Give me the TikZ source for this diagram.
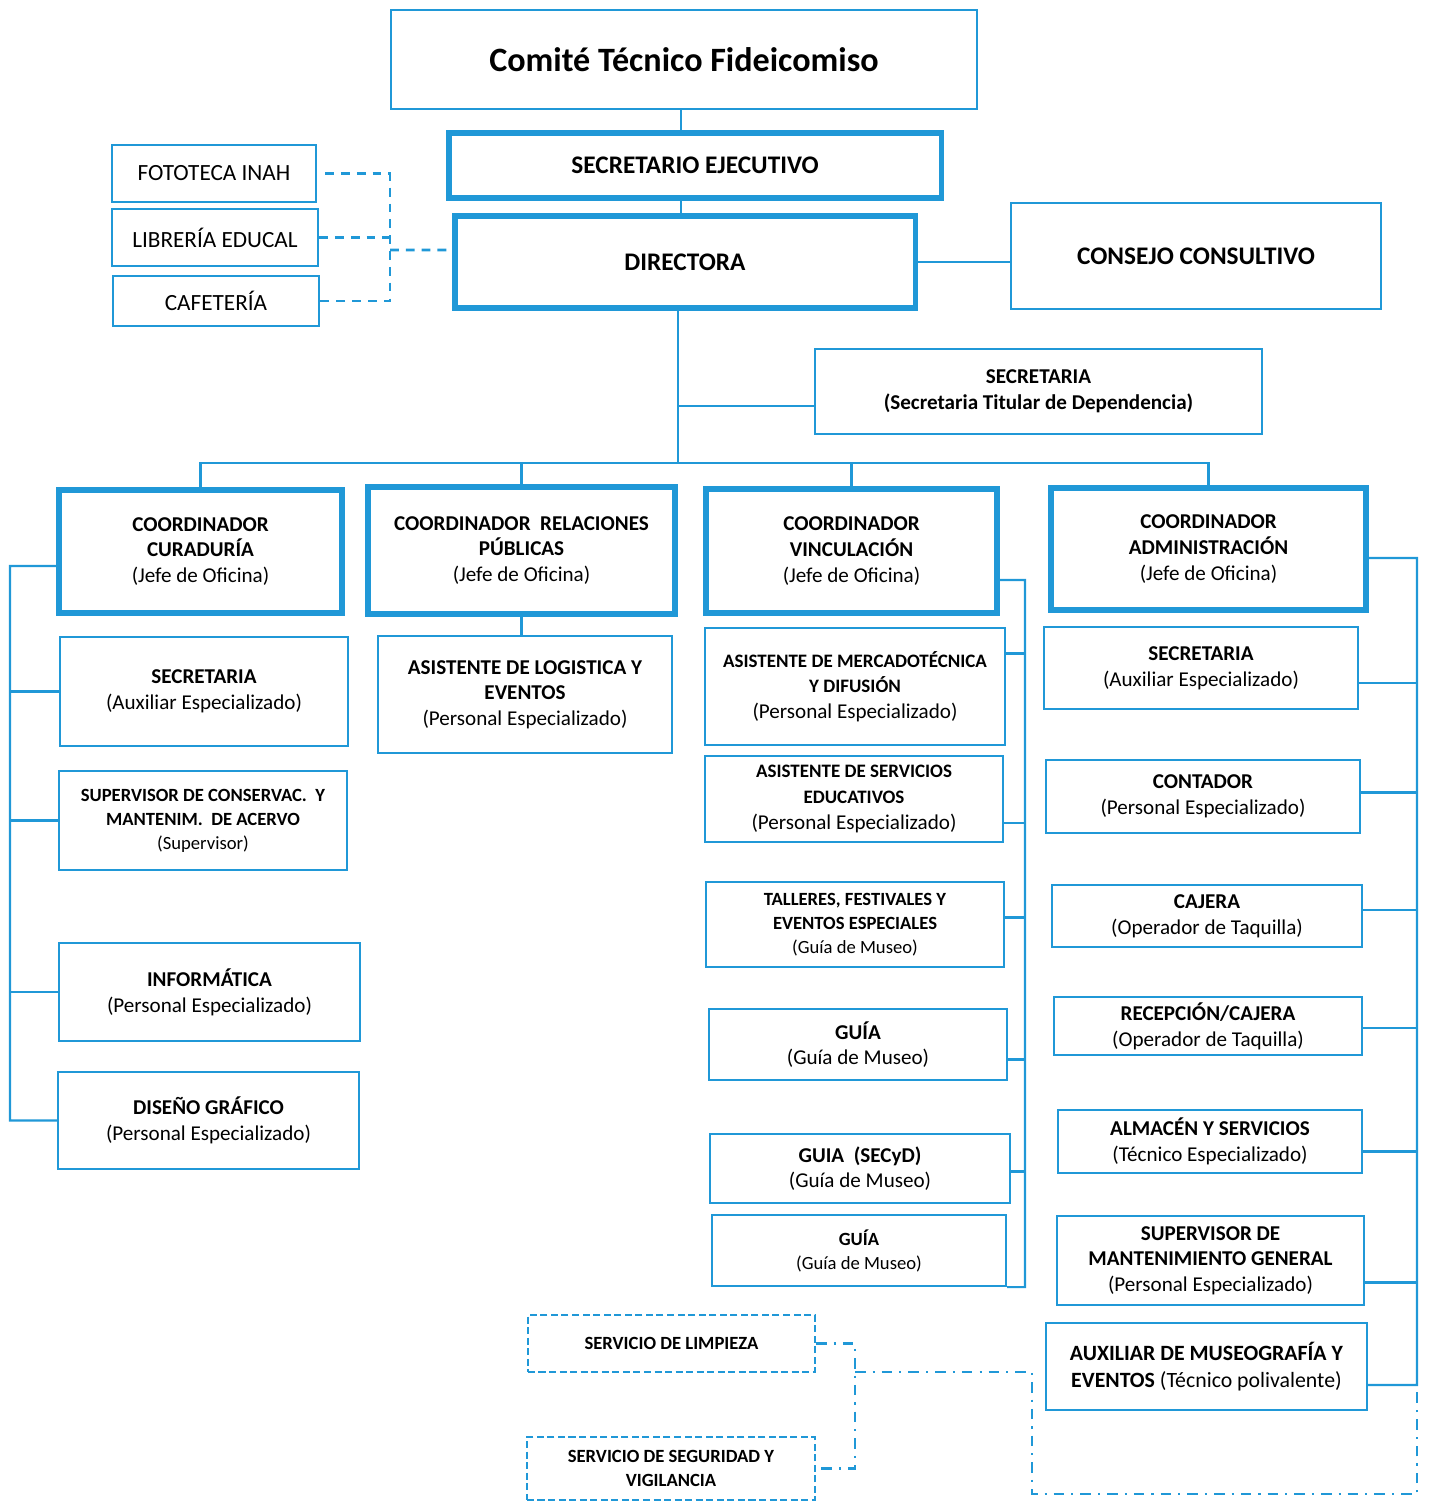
\documentclass[tikz,border=0pt]{standalone}
\usepackage{fontspec}
\setmainfont{Carlito}
\definecolor{orgblue}{RGB}{32,152,215}
\newcommand{\smb}[1]{{\fontsize{5.4}{6.8}\selectfont\textbf{#1}}}
\tikzset{
	box/.style = {draw=orgblue, line width=0.6pt, align=center, inner sep=1pt,
		font=\fontsize{6}{7.3}\selectfont},
	mainbox/.style = {box, line width=1.5pt},
	smallbox/.style = {box, font=\fontsize{5.3}{6.8}\selectfont},
	servbox/.style = {smallbox, dash pattern=on 2pt off 1pt},
	link/.style = {draw=orgblue, line width=0.6pt},
	dashlink/.style = {link, line width=0.75pt, dash pattern=on 2.5pt off 2pt},
	dotlink/.style = {link, line width=0.75pt, dash pattern=on 3pt off 2pt on 0.6pt off 2pt}
}

\begin{document}
\begin{tikzpicture}[x=0.01cm, y=-0.01cm]
	\useasboundingbox (0,0) rectangle (1429,1503);

	% direction
	\node[box, minimum width=5.86cm, minimum height=0.99cm, font=\fontsize{9.7}{12}\selectfont\bfseries]
		(comite) at (684,59.5) {Comité Técnico Fideicomiso};
	\node[mainbox, minimum width=4.92cm, minimum height=0.65cm, font=\fontsize{7.2}{9}\selectfont\bfseries]
		(secej) at (695,165.5) {SECRETARIO EJECUTIVO};
	\node[mainbox, minimum width=4.60cm, minimum height=0.92cm, font=\fontsize{7.2}{9}\selectfont\bfseries]
		(dir) at (685,262) {DIRECTORA};
	\node[box, minimum width=3.70cm, minimum height=1.06cm, font=\fontsize{7.2}{9}\selectfont\bfseries]
		(consejo) at (1196,256) {CONSEJO CONSULTIVO};
	\node[box, minimum width=2.04cm, minimum height=0.57cm, font=\fontsize{6.6}{8}\selectfont]
		(foto) at (214,173.5) {FOTOTECA INAH};
	\node[box, minimum width=2.06cm, minimum height=0.57cm, font=\fontsize{6.6}{8}\selectfont]
		(lib) at (215,237.5) {LIBRERÍA EDUCAL};
	\node[box, minimum width=2.06cm, minimum height=0.50cm, font=\fontsize{6.6}{8}\selectfont]
		(caf) at (216,301) {CAFETERÍA};
	\node[box, minimum width=4.47cm, minimum height=0.85cm, font=\fontsize{6}{7.5}\selectfont\bfseries]
		(sectit) at (1038.5,391.5) {SECRETARIA\\(Secretaria Titular de Dependencia)};

	% coordinadores
	\node[mainbox, minimum width=2.83cm, minimum height=1.23cm] (curad) at (200.5,551.5)
		{\textbf{COORDINADOR}\\\textbf{CURADURÍA}\\(Jefe de Oficina)};
	\node[mainbox, minimum width=3.07cm, minimum height=1.27cm] (relpub) at (521.5,550.5)
		{\textbf{COORDINADOR~~RELACIONES}\\\textbf{PÚBLICAS}\\(Jefe de Oficina)};
	\node[mainbox, minimum width=2.91cm, minimum height=1.24cm] (vinc) at (851.5,551)
		{\textbf{COORDINADOR}\\\textbf{VINCULACIÓN}\\(Jefe de Oficina)};
	\node[mainbox, minimum width=3.15cm, minimum height=1.22cm] (admin) at (1208.5,549)
		{\textbf{COORDINADOR}\\\textbf{ADMINISTRACIÓN}\\(Jefe de Oficina)};

	% curaduria
	\node[box, minimum width=2.88cm, minimum height=1.09cm] (csec) at (204,691.5)
		{\textbf{SECRETARIA}\\(Auxiliar Especializado)};
	\node[smallbox, minimum width=2.88cm, minimum height=0.99cm] (csup) at (203,820.5)
		{\textbf{SUPERVISOR DE CONSERVAC.~~Y}\\\textbf{MANTENIM.~~DE ACERVO}\\(Supervisor)};
	\node[box, minimum width=3.01cm, minimum height=0.98cm] (cinf) at (209.5,992)
		{\textbf{INFORMÁTICA}\\(Personal Especializado)};
	\node[box, minimum width=3.01cm, minimum height=0.97cm] (cdis) at (208.5,1120.5)
		{\textbf{DISEÑO GRÁFICO}\\(Personal Especializado)};

	% relaciones publicas
	\node[box, minimum width=2.94cm, minimum height=1.17cm] (rlog) at (525,694.5)
		{\textbf{ASISTENTE DE LOGISTICA Y}\\\textbf{EVENTOS}\\(Personal Especializado)};

	% vinculacion
	\node[box, minimum width=3.00cm, minimum height=1.17cm] (vmerc) at (855,686.5)
		{\smb{ASISTENTE DE MERCADOTÉCNICA}\\\smb{Y DIFUSIÓN}\\(Personal Especializado)};
	\node[box, minimum width=2.98cm, minimum height=0.86cm] (vserv) at (854,799)
		{\smb{ASISTENTE DE SERVICIOS}\\\smb{EDUCATIVOS}\\(Personal Especializado)};
	\node[smallbox, minimum width=2.98cm, minimum height=0.85cm] (vtall) at (855,924.5)
		{\textbf{TALLERES, FESTIVALES Y}\\\textbf{EVENTOS ESPECIALES}\\(Guía de Museo)};
	\node[box, minimum width=2.98cm, minimum height=0.71cm] (vguia) at (858,1044.5)
		{\textbf{GUÍA}\\(Guía de Museo)};
	\node[box, minimum width=3.00cm, minimum height=0.69cm] (vsecyd) at (860,1168.5)
		{\textbf{GUIA~~(SECyD)}\\(Guía de Museo)};
	\node[smallbox, minimum width=2.94cm, minimum height=0.71cm] (vguiab) at (859,1250.5)
		{\textbf{GUÍA}\\(Guía de Museo)};

	% administracion
	\node[box, minimum width=3.14cm, minimum height=0.82cm] (asec) at (1201,668)
		{\textbf{SECRETARIA}\\(Auxiliar Especializado)};
	\node[box, minimum width=3.14cm, minimum height=0.73cm] (acont) at (1203,796.5)
		{\textbf{CONTADOR}\\(Personal Especializado)};
	\node[box, minimum width=3.10cm, minimum height=0.62cm] (acaj) at (1207,916)
		{\textbf{CAJERA}\\(Operador de Taquilla)};
	\node[box, minimum width=3.08cm, minimum height=0.58cm] (arec) at (1208,1026)
		{\textbf{RECEPCIÓN/CAJERA}\\(Operador de Taquilla)};
	\node[box, minimum width=3.04cm, minimum height=0.63cm] (aalm) at (1210,1141.5)
		{\textbf{ALMACÉN Y SERVICIOS}\\(Técnico Especializado)};
	\node[box, minimum width=3.07cm, minimum height=0.89cm] (asup) at (1210.5,1260.5)
		{\textbf{SUPERVISOR DE}\\\textbf{MANTENIMIENTO GENERAL}\\(Personal Especializado)};
	\node[box, minimum width=3.21cm, minimum height=0.87cm, font=\fontsize{6.2}{7.6}\selectfont] (aaux) at (1206.5,1366.5)
		{\textbf{AUXILIAR DE MUSEOGRAFÍA Y}\\\textbf{EVENTOS} (Técnico polivalente)};

	% servicios externos
	\node[servbox, minimum width=2.87cm, minimum height=0.57cm] (limp) at (671.5,1343.5)
		{\textbf{SERVICIO DE LIMPIEZA}};
	\node[servbox, minimum width=2.88cm, minimum height=0.63cm] (seg) at (671,1468.5)
		{\textbf{SERVICIO DE SEGURIDAD Y}\\\textbf{VIGILANCIA}};

	% main line
	\coordinate (top) at (681,0);
	\draw[link] (comite.south -| top) -- (secej.north -| top);
	\draw[link] (secej.south -| top) -- (dir.north -| top);
	\draw[link] (dir.east) -- (consejo.west |- dir.east);
	\coordinate (hub) at (678,463);
	\draw[link] (dir.south -| hub) -- (hub);
	\coordinate (sq) at ([yshift=-0.145cm]sectit.west);
	\draw[link] (sq) -- (sq -| hub);
	\draw[link] (curad.north) |- (hub) -| (admin.north);
	\draw[link] (relpub.north) -- (relpub.north |- hub);
	\draw[link] (vinc.north) -- (vinc.north |- hub);
	\draw[link] (relpub.south) -- (relpub.south |- rlog.north);

	% tiendas
	\coordinate (tbus) at (390,250);
	\draw[dashlink] ([xshift=0.08cm]foto.east) -| (caf.east -| tbus) -- (caf.east);
	\draw[dashlink] (lib.east) -- (lib.east -| tbus);
	\draw[dashlink] (tbus) -- ([yshift=0.12cm]dir.west);

	% curaduria
	\coordinate (cbus) at (10,566);
	\draw[link] ([yshift=-0.145cm]curad.west) -- (cbus) |- (cdis.west);
	\foreach \n in {csec, csup, cinf}
		\draw[link] (\n.west) -- (\n.west -| cbus);

	% vinculacion
	\coordinate (vbus) at (1025,580);
	\draw[link] ([yshift=-0.29cm]vinc.east) -- (vbus) |- (vguiab.south east);
	\foreach \n/\s in {vmerc/0.33, vserv/-0.24, vtall/0.07, vguia/-0.15, vsecyd/-0.03} {
		\coordinate (p) at ([yshift=\s cm]\n.east);
		\draw[link] (p) -- (p -| vbus);
	}

	% administracion
	\coordinate (abus) at (1417,558);
	\coordinate (aend) at ([yshift=-0.185cm]aaux.east);
	\draw[link] ([yshift=-0.09cm]admin.east) -- (abus) |- (aend);
	\foreach \n/\s in {asec/-0.15, acont/0.04, acaj/0.06, arec/-0.02, aalm/-0.1, asup/-0.22} {
		\coordinate (p) at ([yshift=\s cm]\n.east);
		\draw[link] (p) -- (p -| abus);
	}

	% servicios
	\coordinate (sbus) at (855,1372);
	\coordinate (scorner) at (1032,1494);
	\draw[dotlink] (limp.east) -| (seg.east -| sbus) -- (seg.east);
	\draw[dotlink] (sbus) -| (scorner) -| (abus |- aend);
\end{tikzpicture}
\end{document}
